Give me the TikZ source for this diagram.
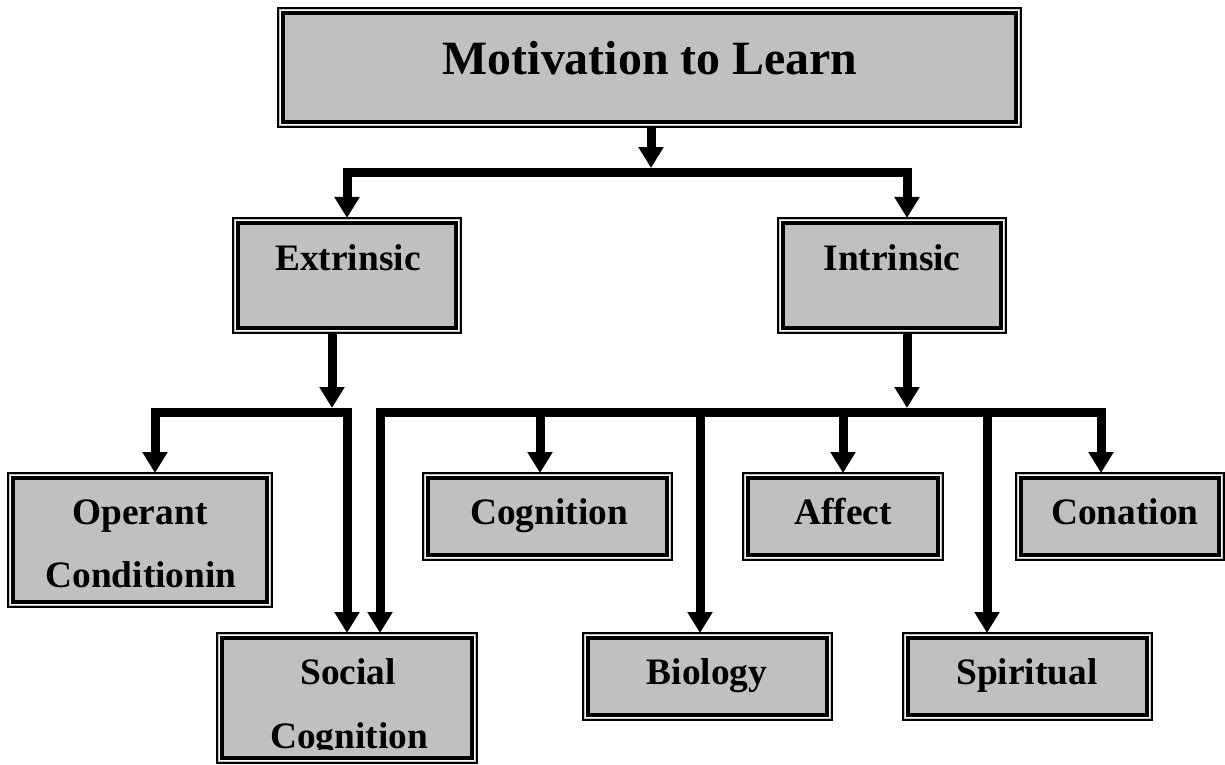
\documentclass[tikz,border=0pt]{standalone}
\usepackage{fontspec}
\setmainfont{Liberation Serif}
\usetikzlibrary{arrows.meta}
\definecolor{boxgray}{HTML}{C0C0C0}
\tikzset{
  box/.style={fill=boxgray, draw=black, line width=1.5bp, inner sep=0pt, outer sep=0pt},
  lbl/.style={inner sep=0pt, anchor=base, font=\bfseries\fontsize{37.5}{40}\selectfont},
  ttl/.style={inner sep=0pt, anchor=base, font=\bfseries\fontsize{48}{52}\selectfont},
  flow/.style={line width=9bp, draw=black, -{Triangle[width=24bp,length=21bp]}},
  bar/.style={line width=9bp, draw=black}
}
\newcommand{\frameinner}[1]{%
  \draw[white, line width=1.2bp] ([shift={(2.4,2.4)}]#1.north west) rectangle ([shift={(-2.4,-2.4)}]#1.south east);
  \draw[black, line width=3.5bp] ([shift={(5,5)}]#1.north west) rectangle ([shift={(-5,-5)}]#1.south east);
}
\begin{document}
\begin{tikzpicture}[x=1bp, y=-1bp]
\useasboundingbox (0,0) rectangle (1225,765);

% boxes
\node[box, minimum width=743bp, minimum height=119bp] (title) at (649.5,67.5) {};
\node[box, minimum width=228bp, minimum height=115bp] (ext) at (347,275.5) {};
\node[box, minimum width=228bp, minimum height=115bp] (intr) at (892,275.5) {};
\node[box, minimum width=264bp, minimum height=134bp] (oper) at (140,540) {};
\node[box, minimum width=260bp, minimum height=130bp] (soc) at (347,698) {};
\node[box, minimum width=249bp, minimum height=87bp] (cog) at (547.5,516.5) {};
\node[box, minimum width=249bp, minimum height=87bp] (bio) at (707.5,676.5) {};
\node[box, minimum width=200bp, minimum height=87bp] (aff) at (843,516.5) {};
\node[box, minimum width=208bp, minimum height=87bp] (con) at (1120,516.5) {};
\node[box, minimum width=249bp, minimum height=87bp] (spi) at (1027.5,676.5) {};
\foreach \n in {title,ext,intr,oper,soc,cog,bio,aff,con,spi} {\frameinner{\n}}

% labels
\node[ttl] (titleT) at (650,75) {Motivation to Learn};
\node[lbl] (extT) at (348,270) {Extrinsic};
\node[lbl] (intrT) at (892,270) {Intrinsic};
\node[lbl] (operT1) at (140,524) {Operant};
\node[lbl] (operT2) at (141,587) {Conditionin};
\node[lbl] (cogT) at (549,524) {Cognition};
\node[lbl] (affT) at (843,524) {Affect};
\node[lbl] (conT) at (1125,524) {Conation};
\node[lbl] (bioT) at (707,684) {Biology};
\node[lbl] (spiT) at (1027,684) {Spiritual};
\node[lbl] (socT1) at (348,684) {Social};
\coordinate (socclip) at (477,749);
\begin{scope}
  \clip (soc.north west) rectangle (socclip);
  \node[lbl] (socT2) at (349,748) {Cognition};
\end{scope}

% level 1 connectors
\coordinate (a1) at (651,168);
\coordinate (b1l) at (347,172);
\coordinate (b1r) at (907,172);
\draw[flow] (title.south -| a1) -- (a1);
\draw[flow] (b1r) -- (b1l) -- (ext.north -| b1l);
\draw[flow] (b1l) -- (b1r) -- (intr.north -| b1r);

% extrinsic branch
\coordinate (a2) at (332,408);
\coordinate (b2l) at (155,412);
\coordinate (b2r) at (347,412);
\draw[flow] (ext.south -| a2) -- (a2);
\draw[flow] (b2r) -- (b2l) -- (oper.north -| b2l);
\draw[flow] (b2l) -- (b2r) -- (soc.north -| b2r);

% intrinsic branch
\coordinate (a3) at (907,408);
\coordinate (c1) at (380,412);
\coordinate (c2) at (540,412);
\coordinate (c3) at (700,412);
\coordinate (c4) at (843,412);
\coordinate (c5) at (987,412);
\coordinate (c6) at (1101,412);
\draw[flow] (intr.south -| a3) -- (a3);
\draw[flow] (c6) -- (c1) -- (soc.north -| c1);
\draw[flow] (c1) -- (c6) -- (con.north -| c6);
\draw[flow] (c2) -- (cog.north -| c2);
\draw[flow] (c3) -- (bio.north -| c3);
\draw[flow] (c4) -- (aff.north -| c4);
\draw[flow] (c5) -- (spi.north -| c5);
\end{tikzpicture}
\end{document}
